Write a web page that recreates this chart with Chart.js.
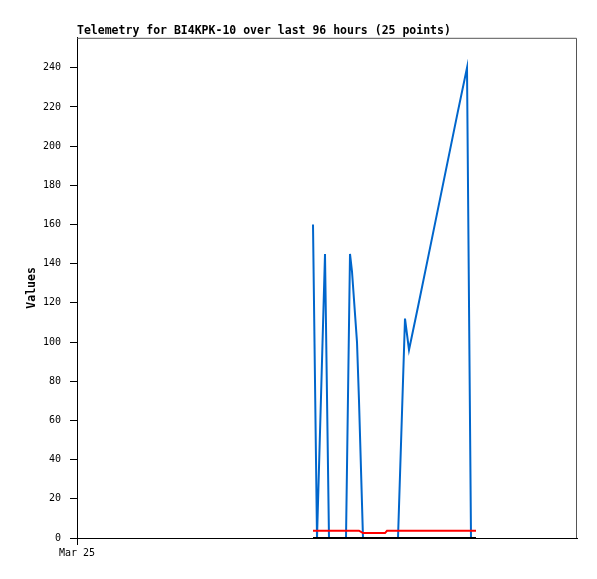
<!DOCTYPE html>
<html>
<head>
<meta charset="utf-8">
<script src="https://cdn.jsdelivr.net/npm/chart.js@4/dist/chart.umd.min.js"></script>
<style>
html,body{margin:0;padding:0;background:#fff;}
#c{display:block;}
</style>
</head>
<body>
<canvas id="c" width="597" height="579"></canvas>
<script>
// Time of each sample, hours since Mar 25 00:00
const hours = [47.2, 48, 48.8, 49.6, 50.4, 53.8, 54.6, 55, 56, 56.4, 57.2, 59.4, 61.6, 62, 64.2, 65.6, 66.4, 68.2, 70.2, 72.2, 74.2, 76.2, 78, 78.8, 79.8];
const blueValues = [160, 0, 72, 145, 0, 0, 145, 136, 100, 70, 0, 0, 0, 0, 0, 112, 96, 118, 143, 168, 193, 218, 240, 0, 0];
const redValues = [3.7, 3.7, 3.7, 3.7, 3.7, 3.7, 3.7, 3.7, 3.7, 3.7, 2.5, 2.5, 2.5, 3.7, 3.7, 3.7, 3.7, 3.7, 3.7, 3.7, 3.7, 3.7, 3.7, 3.7, 3.7];
const blackValues = [0, 0, 0, 0, 0, 0, 0, 0, 0, 0, 0, 0, 0, 0, 0, 0, 0, 0, 0, 0, 0, 0, 0, 0, 0];
const yTickValues = [0, 20, 40, 60, 80, 100, 120, 140, 160, 180, 200, 220, 240];
const xTickValues = [0];
const xTickLabels = ['Mar 25'];
const titleText = 'Telemetry for BI4KPK-10 over last 96 hours (25 points)';
const yTitle = 'Values';

const mono = "'DejaVu Sans Mono', 'Liberation Mono', monospace";

function pts(vals){ return hours.map((h,i)=>({x:h, y:vals[i]})); }

const framePlugin = {
  id: 'frame',
  afterLayout(chart){
    if (chart.titleBlock) { chart.titleBlock.left = chart.chartArea.left; }
  },
  beforeDatasetsDraw(chart){
    const {ctx, chartArea:a} = chart;
    ctx.save();
    ctx.strokeStyle = '#555555';
    ctx.lineWidth = 1;
    ctx.beginPath();
    ctx.moveTo(a.left, a.top + 0.5);
    ctx.lineTo(a.right - 0.5, a.top + 0.5);
    ctx.lineTo(a.right - 0.5, a.bottom);
    ctx.stroke();
    ctx.restore();
  }
};

new Chart(document.getElementById('c'), {
  type: 'line',
  data: {
    datasets: [
      {label:'zero', data: pts(blackValues), borderColor:'#000000', borderWidth:2, pointRadius:0, tension:0, clip:false},
      {label:'red', data: pts(redValues), borderColor:'#ff0000', borderWidth:2, pointRadius:0, tension:0, clip:false},
      {label:'values', data: pts(blueValues), borderColor:'#0066cc', borderWidth:2, pointRadius:0, tension:0, clip:false}
    ]
  },
  options: {
    responsive:false,
    animation:false,
    devicePixelRatio:1,
    layout:{padding:{left:0, right:20, top:0, bottom:0}},
    plugins:{
      legend:{display:false},
      tooltip:{enabled:false},
      title:{
        display:true, text:titleText, align:'start', color:'#000',
        font:{family:mono, size:11.5, weight:'bold', lineHeight:1.2},
        padding:{top:24, bottom:0}
      }
    },
    scales:{
      x:{
        type:'linear', min:0, max:100,
        afterBuildTicks(s){ s.ticks = xTickValues.map(v=>({value:v})); },
        afterFit(s){ s.height = 41; },
        ticks:{
          callback(v){ const i = xTickValues.indexOf(v); return i>=0 ? xTickLabels[i] : ''; },
          font:{family:mono, size:10}, color:'#000', padding:2, maxRotation:0, autoSkip:false
        },
        grid:{drawOnChartArea:false, drawTicks:true, tickLength:7, color:'#000', tickColor:'#000'},
        border:{display:true, color:'#000', width:1}
      },
      y:{
        type:'linear', min:0, max:255.3,
        afterBuildTicks(s){ s.ticks = yTickValues.map(v=>({value:v})); },
        afterFit(s){ s.width = 77; },
        ticks:{
          callback(v){ return String(v); },
          font:{family:mono, size:10}, color:'#000', padding:9, autoSkip:false
        },
        grid:{drawOnChartArea:false, drawTicks:true, tickLength:7, color:'#000', tickColor:'#000'},
        border:{display:true, color:'#000', width:1},
        title:{display:true, text:yTitle, color:'#000', font:{family:mono, size:11.5, weight:'bold', lineHeight:1.2}, padding:{top:25, bottom:0}}
      }
    }
  },
  plugins:[framePlugin]
});
</script>
</body>
</html>
